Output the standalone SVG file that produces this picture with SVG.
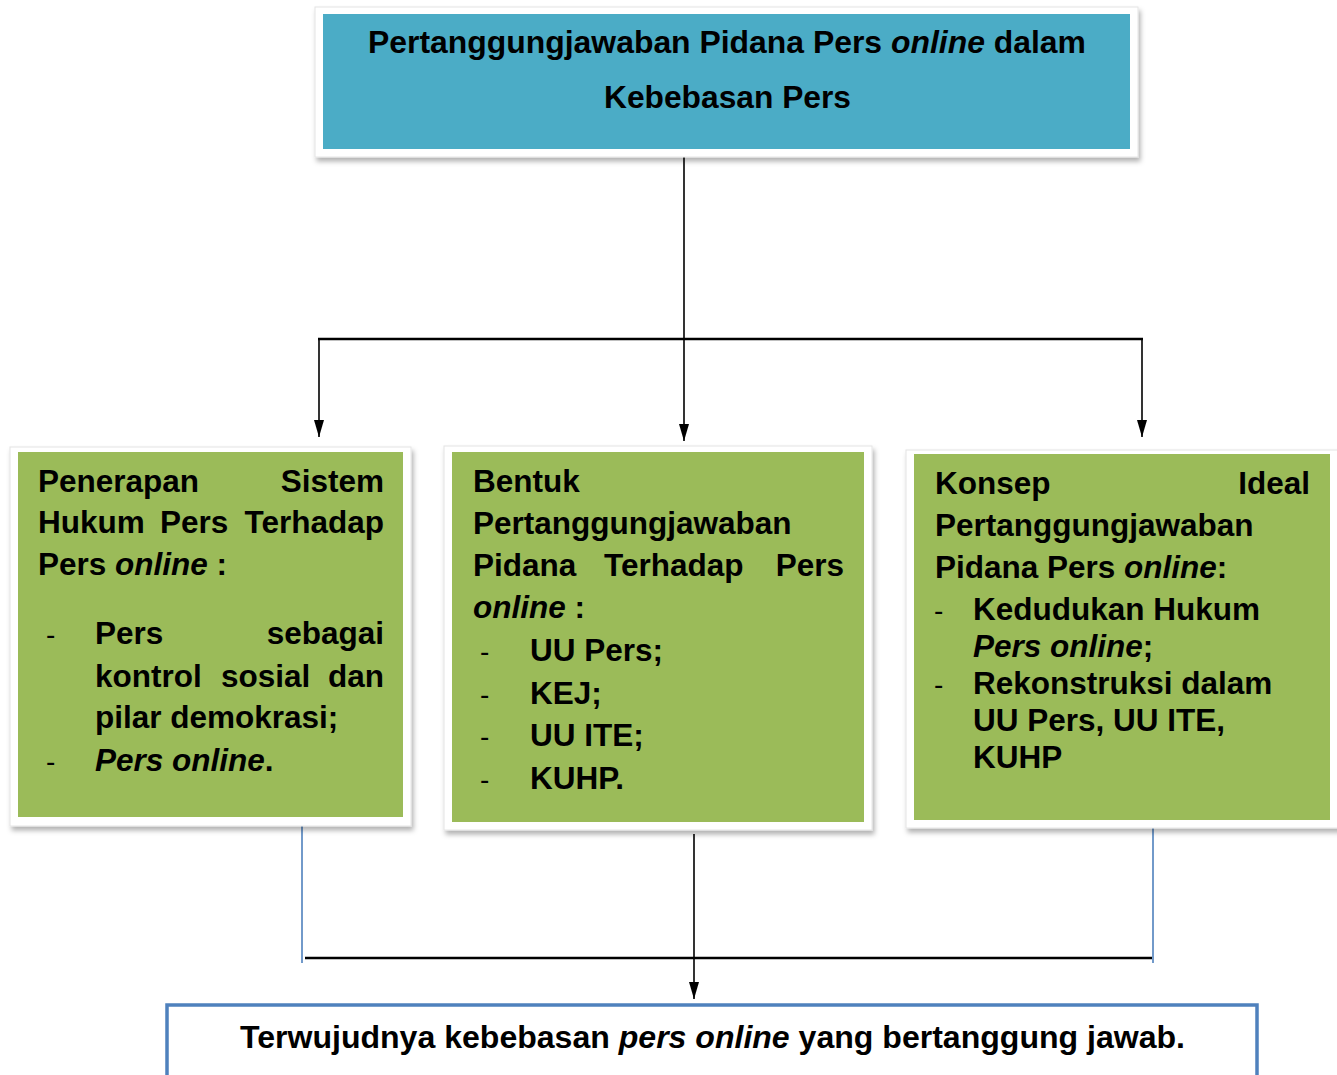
<svg xmlns="http://www.w3.org/2000/svg" width="1337" height="1075" viewBox="0 0 1337 1075">
<defs>
<filter id="sh" x="-5%" y="-5%" width="110%" height="115%">
<feDropShadow dx="2" dy="4" stdDeviation="2.5" flood-color="#000" flood-opacity="0.3"/>
</filter>
<marker id="ah" markerUnits="userSpaceOnUse" markerWidth="18" markerHeight="12" refX="17" refY="6" orient="auto">
<path d="M0,1 L17,6 L0,11 z" fill="#000"/>
</marker>
<style>
text{font-family:"Liberation Sans",Arial,sans-serif;font-weight:bold;fill:#000}
.b{font-size:31.5px}
.t{font-size:31px}
.i{font-style:italic}
.d{font-weight:normal;font-size:28px}
.frame{fill:#fff;stroke:#e4e4e4;stroke-width:1}
.blue{fill:#4BACC6}
.green{fill:#9BBB59}
.ln{stroke:#000;fill:none}
</style>
</defs>
<rect width="1337" height="1075" fill="#fff"/>

<g id="connectors">
<line class="ln" x1="684" y1="157" x2="684" y2="441" stroke-width="1.6" marker-end="url(#ah)"/>
<line class="ln" x1="318" y1="339" x2="1143" y2="339" stroke-width="2.5"/>
<line class="ln" x1="319" y1="339" x2="319" y2="437" stroke-width="1.6" marker-end="url(#ah)"/>
<line class="ln" x1="1142" y1="339" x2="1142" y2="437" stroke-width="1.6" marker-end="url(#ah)"/>
<line x1="302" y1="826" x2="302" y2="963" stroke="#4F81BD" stroke-width="1.6"/>
<line x1="1153" y1="826" x2="1153" y2="963" stroke="#4F81BD" stroke-width="1.6"/>
<line class="ln" x1="305" y1="958" x2="1152" y2="958" stroke-width="2.5"/>
<line class="ln" x1="694" y1="834" x2="694" y2="999" stroke-width="1.6" marker-end="url(#ah)"/>
</g>

<g id="top">
<rect class="frame" x="315" y="7" width="823" height="150" filter="url(#sh)"/>
<rect class="blue" x="323" y="14" width="807" height="135"/>
<text class="t" x="368" y="53" textLength="718" lengthAdjust="spacingAndGlyphs">Pertanggungjawaban Pidana Pers <tspan class="i">online</tspan> dalam</text>
<text class="t" x="604" y="108" textLength="247" lengthAdjust="spacingAndGlyphs">Kebebasan Pers</text>
</g>

<g id="left">
<rect class="frame" x="10" y="447" width="401" height="379" filter="url(#sh)"/>
<rect class="green" x="18" y="452" width="385" height="365"/>
<text class="b" x="38" y="492">Penerapan</text>
<text class="b" x="384" y="492" text-anchor="end">Sistem</text>
<text class="b" x="38" y="533">Hukum</text>
<text class="b" x="160" y="533">Pers</text>
<text class="b" x="384" y="533" text-anchor="end">Terhadap</text>
<text class="b" x="38" y="575">Pers <tspan class="i">online</tspan> :</text>
<text class="d" x="46" y="644">-</text>
<text class="b" x="95" y="644">Pers</text>
<text class="b" x="384" y="644" text-anchor="end">sebagai</text>
<text class="b" x="95" y="687">kontrol</text>
<text class="b" x="221" y="687">sosial</text>
<text class="b" x="384" y="687" text-anchor="end">dan</text>
<text class="b" x="95" y="728">pilar demokrasi;</text>
<text class="d" x="46" y="771">-</text>
<text class="b" x="95" y="771"><tspan class="i">Pers online</tspan>.</text>
</g>

<g id="middle">
<rect class="frame" x="444" y="446" width="428" height="384" filter="url(#sh)"/>
<rect class="green" x="452" y="452" width="412" height="370"/>
<text class="b" x="473" y="492">Bentuk</text>
<text class="b" x="473" y="534">Pertanggungjawaban</text>
<text class="b" x="473" y="576">Pidana</text>
<text class="b" x="604" y="576">Terhadap</text>
<text class="b" x="844" y="576" text-anchor="end">Pers</text>
<text class="b" x="473" y="618"><tspan class="i">online</tspan> :</text>
<text class="d" x="480" y="661">-</text>
<text class="b" x="530" y="661">UU Pers;</text>
<text class="d" x="480" y="704">-</text>
<text class="b" x="530" y="704">KEJ;</text>
<text class="d" x="480" y="746">-</text>
<text class="b" x="530" y="746">UU ITE;</text>
<text class="d" x="480" y="789">-</text>
<text class="b" x="530" y="789">KUHP.</text>
</g>

<g id="right">
<rect class="frame" x="906" y="450" width="440" height="378" filter="url(#sh)"/>
<rect class="green" x="914" y="454" width="416" height="366"/>
<text class="b" x="935" y="494">Konsep</text>
<text class="b" x="1310" y="494" text-anchor="end">Ideal</text>
<text class="b" x="935" y="536">Pertanggungjawaban</text>
<text class="b" x="935" y="578">Pidana Pers <tspan class="i">online</tspan>:</text>
<text class="d" x="934" y="620">-</text>
<text class="b" x="973" y="620">Kedudukan Hukum</text>
<text class="b" x="973" y="657"><tspan class="i">Pers online</tspan>;</text>
<text class="d" x="934" y="694">-</text>
<text class="b" x="973" y="694">Rekonstruksi dalam</text>
<text class="b" x="973" y="731">UU Pers, UU ITE,</text>
<text class="b" x="973" y="768">KUHP</text>
</g>

<g id="bottom">
<rect x="167" y="1005" width="1090" height="80" fill="#fff" stroke="#4F81BD" stroke-width="3.5"/>
<text class="t" x="240" y="1048" textLength="945" lengthAdjust="spacingAndGlyphs">Terwujudnya kebebasan <tspan class="i">pers online</tspan> yang bertanggung jawab.</text>
</g>
</svg>
